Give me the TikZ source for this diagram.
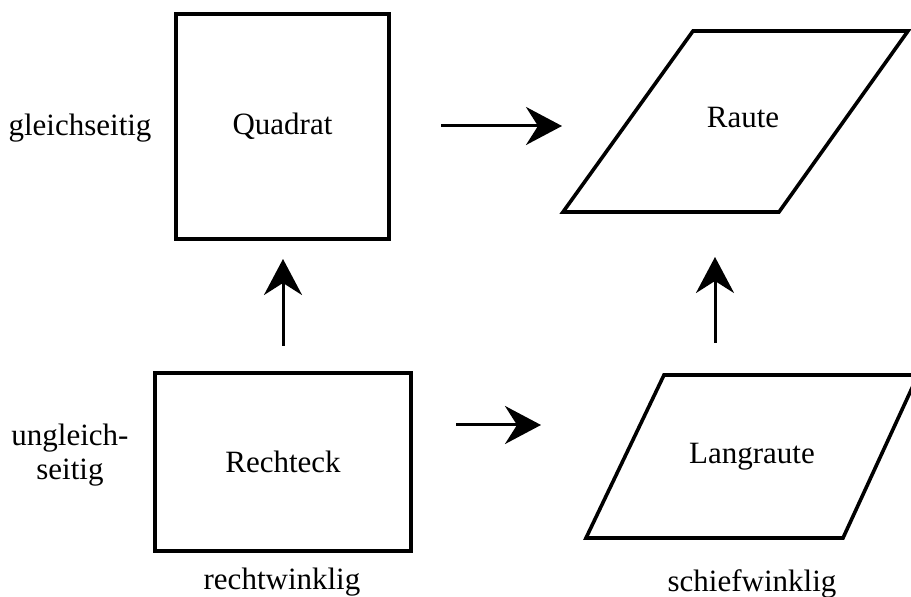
\documentclass[tikz,border=0pt]{standalone}
\usepackage{fontspec}
\setmainfont{Liberation Serif}
\usetikzlibrary{arrows.meta}

\begin{document}
\begin{tikzpicture}[x=0.5pt, y=-0.5pt,
		line width=1.8pt,
		font=\fontsize{15.5}{17}\selectfont,
		kasten/.style={draw, rectangle, inner sep=0pt},
		pfeil/.style={line width=1.5pt, -{Stealth[length=18pt, width=19pt, inset=6pt]}}]
		\useasboundingbox (0,0) rectangle (911,597);

		% Rechtecke
		\node[kasten, minimum width=106.5pt, minimum height=112.5pt] (quadrat) at (282.5,126.5) {Quadrat};
		\node[kasten, minimum width=128pt, minimum height=89pt] (rechteck) at (283,462) {Rechteck};

		% Parallelogramme
		\draw (563,212) -- (779,212) -- (908,31) -- (693,31) -- cycle;
		\draw (586,538) -- (843,538) -- (918,375) -- (664,375) -- cycle;
		\node (raute) at (743,118) {Raute};
		\node (langraute) at (752,457) {Langraute};

		% Beschriftungen
		\node (gleich) at (80,128) {gleichseitig};
		\node[align=center] (ungleich) at (70,455) {ungleich-\\seitig};
		\node (rechtw) at (282,582) {rechtwinklig};
		\node (schiefw) at (752,584) {schiefwinklig};

		% Pfeile
		\coordinate (o1) at (441,126);
		\coordinate (o2) at (562,126);
		\coordinate (u1) at (456,425);
		\coordinate (u2) at (541,425);
		\coordinate (l1) at (283,346);
		\coordinate (l2) at (283,259);
		\coordinate (r1) at (715,343);
		\coordinate (r2) at (715,257);

		\draw[pfeil] (o1) -- (o2);
		\draw[pfeil] (u1) -- (u2);
		\draw[pfeil] (l1) -- (l2);
		\draw[pfeil] (r1) -- (r2);
	\end{tikzpicture}
\end{document}
